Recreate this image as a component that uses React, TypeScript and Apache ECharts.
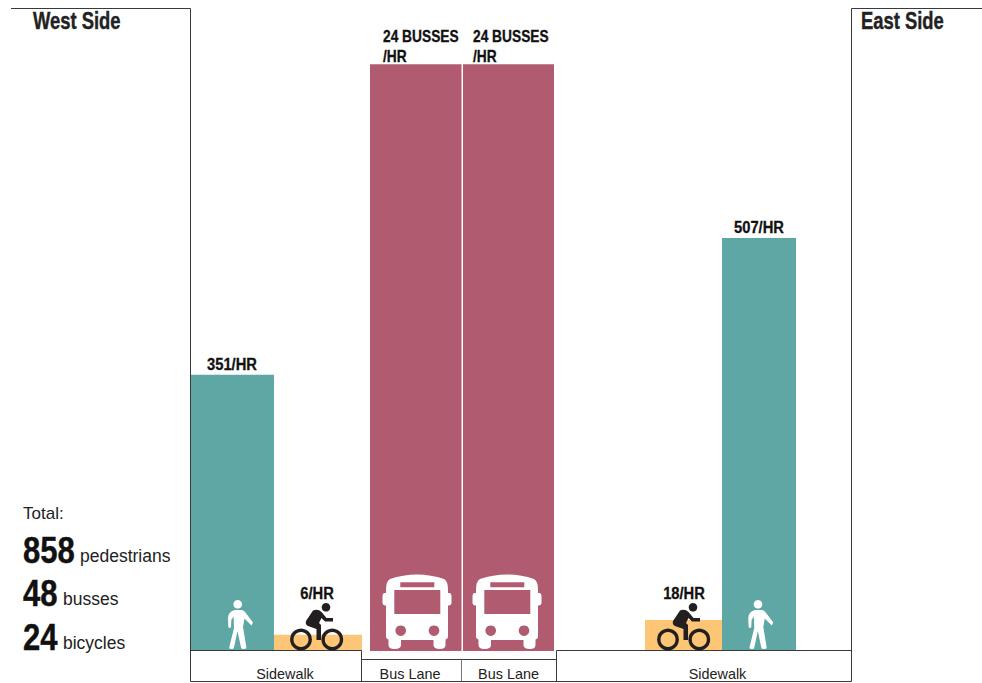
import React, { useEffect, useRef } from "react";
import * as echarts from "echarts";

// ---- data ----
const laneNames = ["West pedestrians", "West bicycles", "Bus lane 1", "Bus lane 2", "East bicycles", "East pedestrians"];
const laneKinds = ["walk", "bike", "bus", "bus", "bike", "walk"];
const laneHeights = [339, 20, 720, 720, 38, 507];
const laneLabels = ["351/HR", "6/HR", "24 BUSSES\n/HR", "24 BUSSES\n/HR", "18/HR", "507/HR"];
const stripLabels = ["Sidewalk", "Bus Lane", "Bus Lane", "Sidewalk"];
const totalValues = ["858", "48", "24"];
const totalNames = ["pedestrians", "busses", "bicycles"];
const sideNames = ["West Side", "East Side"];

// ---- layout (pixels of the 982x683 picture) ----
const W = 982;
const H = 683;
const BASE = 651;
const Y_MAX = 799;
const laneSpans = [[190, 274], [274, 362], [370, 461.5], [463, 554], [645, 722], [722, 796]];
const labelPos: [number, number, string, number][] = [
  [232, 364, "center", 0.92], [317, 593, "center", 0.92], [383, 46, "left", 0.86], [473, 46, "left", 0.86], [684, 593, "center", 0.92], [759, 227, "center", 0.92],
];
const stripPos = [285, 410, 508.5, 717.5];
const totalPos: [number, number, number][] = [[550, 80, 556], [593, 63, 599], [637, 63, 643]];
const colors: Record<string, string> = { walk: "#5fa7a5", bike: "#fcc676", bus: "#b05b70" };
const SANS = '"Liberation Sans", Arial, sans-serif';
const INK = "#111111";
const RULE = "#3a3a3a";

const BUS_D =
  "M11,20 Q11,11 15,9 Q28,4.5 42,4.5 Q56,4.5 69,9 Q73,11 73,20 L73,23 L75,23 Q76.5,24 76.5,26 L76.5,33 Q76.5,35 74,35.5 L73,35.5 L73,66 Q73,69 70.5,69.5 L70.5,75 Q70.5,79 65,79 Q58.5,79 58.5,75 L58.5,70 L26,70 L26,75 Q26,79 19.5,79 Q13.5,79 13.5,75 L13.5,69.5 Q11,69 11,66 L11,35.5 L10,35.5 Q7.5,35 7.5,33 L7.5,26 Q7.5,24 9,23 L11,23 Z";
const WALK_D =
  "M14.5,15 L21,15 Q23.5,15 25,17 L33,27.5 L31.5,30.5 L24.5,23.5 L23,32 L26.3,52 Q26.6,54 24.5,54 L23,54 Q21.5,54 21,52.5 L17.5,36 L14,52.5 Q13.6,54 12,54 L10.5,54 Q9,54 9.3,52 L14,33 L13.6,21.5 L11.3,25 L11,32 Q9.7,33.8 8.3,32 L8,23 Q8,17 14.5,15 Z";
const BIKE_D =
  "M28,25.5 Q33,23.5 36.5,27 L41.5,33 L48,33 L48,36.5 L40,36.5 L36.5,33 L34,38 L36,40 L36,55 L31.5,55 L31.5,44 L23,41 Q20,39.5 21,36 Z";

echarts.graphic.registerShape("busBody", echarts.graphic.extendPath(BUS_D as any, {}) as any);
echarts.graphic.registerShape("walkBody", echarts.graphic.extendPath(WALK_D as any, {}) as any);
echarts.graphic.registerShape("bikeBody", echarts.graphic.extendPath(BIKE_D as any, {}) as any);

function line(points: number[][], stroke = RULE) {
  return { type: "polyline", silent: true, z: 20, shape: { points }, style: { stroke, fill: null, lineWidth: 1 } };
}
function plain(t: string, x: number, y: number, size: number, align = "left", fill = "#222222") {
  return {
    type: "text", silent: true, z: 30, x, y,
    style: { text: t, fontSize: size, fontFamily: SANS, fill, textAlign: align, textVerticalAlign: "middle" },
  };
}
function heavy(t: string, x: number, y: number, size: number, squeeze: number, fill = INK) {
  return {
    type: "text", silent: true, z: 30, x, y, scaleX: squeeze,
    style: { text: t, fontSize: size, fontFamily: SANS, fontWeight: "bold", fill, stroke: fill, lineWidth: 0.4, textAlign: "left", textVerticalAlign: "middle" },
  };
}
function walkIcon(x: number, y: number) {
  return {
    type: "group", x, y, z: 25, silent: true,
    children: [
      { type: "walkBody", z: 25, style: { fill: "#ffffff" } },
      { type: "circle", z: 25, shape: { cx: 17.7, cy: 9.3, r: 4.3 }, style: { fill: "#ffffff" } },
    ],
  };
}
function bikeIcon(x: number, y: number) {
  const dark = "#231f20";
  return {
    type: "group", x, y, z: 25, silent: true,
    children: [
      { type: "bikeBody", z: 25, style: { fill: dark } },
      { type: "circle", z: 25, shape: { cx: 41, cy: 22.3, r: 4.3 }, style: { fill: dark } },
      { type: "circle", z: 25, shape: { cx: 16, cy: 54.5, r: 9.2 }, style: { fill: null, stroke: dark, lineWidth: 3.4 } },
      { type: "circle", z: 25, shape: { cx: 47.3, cy: 54.5, r: 9.2 }, style: { fill: null, stroke: dark, lineWidth: 3.4 } },
    ],
  };
}
function busIcon(x: number, y: number) {
  const hole = colors.bus;
  return {
    type: "group", x, y, z: 25, silent: true,
    children: [
      { type: "busBody", z: 25, style: { fill: "#ffffff" } },
      { type: "rect", z: 26, shape: { x: 25.3, y: 12.3, width: 34, height: 5 }, style: { fill: hole } },
      { type: "rect", z: 26, shape: { x: 19.3, y: 20, width: 46, height: 24 }, style: { fill: hole } },
      { type: "circle", z: 26, shape: { cx: 25.7, cy: 60.7, r: 5.3 }, style: { fill: hole } },
      { type: "circle", z: 26, shape: { cx: 59, cy: 60.7, r: 5.3 }, style: { fill: hole } },
    ],
  };
}

export default function App() {
  const ref = useRef<HTMLDivElement>(null);
  useEffect(() => {
    const chart = echarts.init(ref.current!, null, { renderer: "svg" });
    const elements: any[] = [
      // frame
      line([[11, 8.5], [190.5, 8.5], [190.5, 681.5], [851.5, 681.5], [851.5, 8.5], [982, 8.5]]),
      line([[190.5, 650.5], [361.5, 650.5], [361.5, 681.5]]),
      line([[361.5, 659.5], [556.5, 659.5]]),
      line([[461.5, 659.5], [461.5, 681.5]], "#777777"),
      line([[556.5, 681.5], [556.5, 650.5], [851.5, 650.5]]),
      heavy(sideNames[0], 33, 21, 23, 0.8, "#222222"),
      heavy(sideNames[1], 861, 21, 23, 0.8, "#222222"),
      plain("Total:", 23, 513, 17),
      ...stripLabels.map((s, i) => plain(s, stripPos[i], 674, 14.4, "center")),
      ...totalValues.map((v, i) => heavy(v, 23, totalPos[i][0], 37, 0.84)),
      ...totalNames.map((n, i) => plain(n, totalPos[i][1], totalPos[i][2], 17.5)),
      walkIcon(220, 595), walkIcon(740.3, 595),
      bikeIcon(285, 585), bikeIcon(652, 585),
      busIcon(375, 570), busIcon(465, 570),
    ];
    chart.setOption({
      animation: false,
      backgroundColor: "#ffffff",
      grid: { left: 0, top: 0, width: W, height: BASE, containLabel: false },
      xAxis: { type: "value", min: 0, max: W, show: false },
      yAxis: { type: "value", min: 0, max: Y_MAX, show: false },
      series: [
        {
          type: "custom",
          coordinateSystem: "cartesian2d",
          silent: true,
          z: 2,
          encode: { x: 0, y: 1 },
          data: laneNames.map((_, i) => [i, laneHeights[i]]),
          renderItem: (_p: any, api: any) => {
            const i = api.value(0);
            const [x0, x1] = laneSpans[i];
            const top = api.coord([x0, api.value(1)]);
            const bot = api.coord([x1, 0]);
            const [lx, ly, align, squeeze] = labelPos[i];
            return {
              type: "group",
              children: [
                { type: "rect", shape: { x: top[0], y: top[1], width: bot[0] - top[0], height: bot[1] - top[1] }, style: { fill: colors[laneKinds[i]] } },
                {
                  type: "text", x: lx, y: ly, scaleX: squeeze, z2: 10,
                  style: { text: laneLabels[i], fontSize: 16, lineHeight: 20, fontFamily: SANS, fontWeight: "bold", fill: INK, stroke: INK, lineWidth: 0.3, textAlign: align, textVerticalAlign: "middle" },
                },
              ],
            };
          },
        },
      ],
      graphic: { elements },
    });
    return () => chart.dispose();
  }, []);
  return <div ref={ref} style={{ position: "absolute", left: 0, top: 0, width: W, height: H }} />;
}
